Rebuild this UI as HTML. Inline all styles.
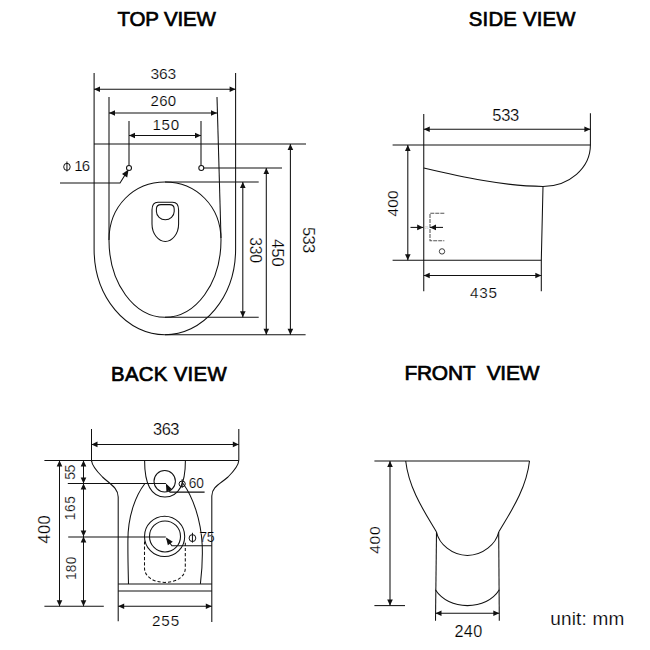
<!DOCTYPE html>
<html><head><meta charset="utf-8"><style>
html,body{margin:0;padding:0;background:#fff;width:650px;height:650px;overflow:hidden}
svg{display:block}
text{font-family:"Liberation Sans",sans-serif}
</style></head><body>
<svg width="650" height="650" viewBox="0 0 650 650" fill="none">
<rect width="650" height="650" fill="#fff"/>
<text x="117.46" y="26.16" font-size="20.48" font-weight="normal" letter-spacing="-0.13" fill="#000" stroke="#000" stroke-width="0.70">TOP VIEW</text>
<path d="M94.1,73 V249 A70.8,85.8 0 0 0 164.9,334.8 A70.8,85.8 0 0 0 235.6,249 V73" stroke="#111" stroke-width="1.05"/>
<path d="M109.00,97.00 L109.00,240.00" stroke="#111" stroke-width="1.05"/>
<path d="M217.00,97.00 L221.00,238.00" stroke="#111" stroke-width="1.05"/>
<path d="M165,182 C196,182 221,206 221,240 C221,283 196,317.3 165,317.3 C134,317.3 109,283 109,240 C109,206 134,182 165,182 Z" stroke="#111" stroke-width="1.05"/>
<path d="M158,202.2 H172.6 Q178.6,202.2 178.6,210 V224 C178.6,234 172,241.5 165.3,241.5 C158.6,241.5 152,234 152,224 V210 Q152,202.2 158,202.2 Z" stroke="#111" stroke-width="1.05"/>
<path d="M161,204.6 H169.6 Q174.2,204.6 174.2,209 V211.5 C174.2,216 170,219.7 165.3,219.7 C160.6,219.7 156.4,216 156.4,211.5 V209 Q156.4,204.6 161,204.6 Z" stroke="#111" stroke-width="1.05"/>
<path d="M94.00,89.30 L235.60,89.30" stroke="#111" stroke-width="1.05"/>
<path d="M94.00,89.30 L100.00,86.50 L100.00,92.10 Z" fill="#111" stroke="none"/>
<path d="M235.60,89.30 L229.60,92.10 L229.60,86.50 Z" fill="#111" stroke="none"/>
<path d="M109.00,113.00 L217.00,113.00" stroke="#111" stroke-width="1.05"/>
<path d="M109.00,113.00 L115.00,110.20 L115.00,115.80 Z" fill="#111" stroke="none"/>
<path d="M217.00,113.00 L211.00,115.80 L211.00,110.20 Z" fill="#111" stroke="none"/>
<path d="M129.00,121.00 L129.00,165.50" stroke="#111" stroke-width="1.05"/>
<path d="M201.00,121.00 L201.00,165.50" stroke="#111" stroke-width="1.05"/>
<path d="M129.00,135.50 L201.00,135.50" stroke="#111" stroke-width="1.05"/>
<path d="M129.00,135.50 L135.00,132.70 L135.00,138.30 Z" fill="#111" stroke="none"/>
<path d="M201.00,135.50 L195.00,138.30 L195.00,132.70 Z" fill="#111" stroke="none"/>
<circle cx="129.00" cy="168.00" r="2.50" stroke="#111" stroke-width="1.05"/>
<circle cx="201.30" cy="168.00" r="2.50" stroke="#111" stroke-width="1.05"/>
<text x="150.52" y="79.49" font-size="15.56" font-weight="normal" letter-spacing="-0.15" fill="#000" stroke="#fff" stroke-width="0.20">363</text>
<text x="150.52" y="106.35" font-size="15.00" font-weight="normal" letter-spacing="0.32" fill="#000" stroke="#fff" stroke-width="0.20">260</text>
<text x="152.40" y="130.01" font-size="15.14" font-weight="normal" letter-spacing="0.72" fill="#000" stroke="#fff" stroke-width="0.20">150</text>
<path d="M94.00,144.00 L306.00,144.00" stroke="#111" stroke-width="1.05"/>
<path d="M203.80,168.00 L282.00,168.00" stroke="#111" stroke-width="1.05"/>
<path d="M165.00,182.00 L258.70,182.00" stroke="#111" stroke-width="1.05"/>
<path d="M165.00,317.30 L258.70,317.30" stroke="#111" stroke-width="1.05"/>
<path d="M165.00,334.80 L305.60,334.80" stroke="#111" stroke-width="1.05"/>
<path d="M242.80,182.00 L242.80,317.30" stroke="#111" stroke-width="1.05"/>
<path d="M242.80,182.00 L245.60,188.00 L240.00,188.00 Z" fill="#111" stroke="none"/>
<path d="M242.80,317.30 L240.00,311.30 L245.60,311.30 Z" fill="#111" stroke="none"/>
<path d="M266.30,168.00 L266.30,334.80" stroke="#111" stroke-width="1.05"/>
<path d="M266.30,168.00 L269.10,174.00 L263.50,174.00 Z" fill="#111" stroke="none"/>
<path d="M266.30,334.80 L263.50,328.80 L269.10,328.80 Z" fill="#111" stroke="none"/>
<path d="M290.40,144.00 L290.40,334.80" stroke="#111" stroke-width="1.05"/>
<path d="M290.40,144.00 L293.20,150.00 L287.60,150.00 Z" fill="#111" stroke="none"/>
<path d="M290.40,334.80 L287.60,328.80 L293.20,328.80 Z" fill="#111" stroke="none"/>
<text x="250.14" y="237.38" font-size="15.71" font-weight="normal" letter-spacing="-0.33" fill="#000" stroke="#fff" stroke-width="0.20" transform="rotate(90 250.14 237.38)">330</text>
<text x="271.75" y="239.00" font-size="16.98" font-weight="normal" letter-spacing="-0.31" fill="#000" stroke="#fff" stroke-width="0.20" transform="rotate(90 271.75 239.00)">450</text>
<text x="302.56" y="227.12" font-size="16.55" font-weight="normal" letter-spacing="-0.71" fill="#000" stroke="#fff" stroke-width="0.20" transform="rotate(90 302.56 227.12)">533</text>
<path d="M60.00,183.00 L120.00,183.00 L125.00,175.00" stroke="#111" stroke-width="1.05"/>
<path d="M128.60,169.40 L127.21,177.40 L121.97,174.08 Z" fill="#111" stroke="none"/>
<ellipse cx="66.95" cy="166.85" rx="3.25" ry="3.55" stroke="#111" stroke-width="1.00"/>
<path d="M66.95,161.50 L66.95,171.40" stroke="#111" stroke-width="1.00"/>
<text x="74.30" y="171.35" font-size="15.00" font-weight="normal" letter-spacing="-0.98" fill="#000" stroke="#fff" stroke-width="0.20">16</text>
<text x="468.86" y="26.28" font-size="20.34" font-weight="normal" letter-spacing="0.19" fill="#000" stroke="#000" stroke-width="0.70">SIDE VIEW</text>
<path d="M392.60,145.00 L590.40,145.00" stroke="#111" stroke-width="1.05"/>
<path d="M423.75,114.00 L423.75,291.20" stroke="#111" stroke-width="1.05"/>
<path d="M590.40,113.30 L590.40,145.00" stroke="#111" stroke-width="1.05"/>
<path d="M590.4,145 A47.4,41.4 0 0 1 543,186.4" stroke="#111" stroke-width="1.05"/>
<path d="M423.75,168 C462,177 505,186.4 543,186.4" stroke="#111" stroke-width="1.05"/>
<path d="M543.00,186.40 L541.30,260.20 L541.30,291.20" stroke="#111" stroke-width="1.05"/>
<path d="M392.60,260.20 L541.30,260.20" stroke="#111" stroke-width="1.05"/>
<path d="M423.75,129.20 L590.40,129.20" stroke="#111" stroke-width="1.05"/>
<path d="M423.75,129.20 L429.75,126.40 L429.75,132.00 Z" fill="#111" stroke="none"/>
<path d="M590.40,129.20 L584.40,132.00 L584.40,126.40 Z" fill="#111" stroke="none"/>
<path d="M423.75,275.50 L541.30,275.50" stroke="#111" stroke-width="1.05"/>
<path d="M423.75,275.50 L429.75,272.70 L429.75,278.30 Z" fill="#111" stroke="none"/>
<path d="M541.30,275.50 L535.30,278.30 L535.30,272.70 Z" fill="#111" stroke="none"/>
<path d="M407.80,145.00 L407.80,260.20" stroke="#111" stroke-width="1.05"/>
<path d="M407.80,145.00 L410.60,151.00 L405.00,151.00 Z" fill="#111" stroke="none"/>
<path d="M407.80,260.20 L405.00,254.20 L410.60,254.20 Z" fill="#111" stroke="none"/>
<text x="492.36" y="120.94" font-size="16.55" font-weight="normal" letter-spacing="-0.37" fill="#000" stroke="#fff" stroke-width="0.20">533</text>
<text x="470.12" y="297.67" font-size="15.28" font-weight="normal" letter-spacing="0.72" fill="#000" stroke="#fff" stroke-width="0.20">435</text>
<text x="398.39" y="216.48" font-size="15.42" font-weight="normal" letter-spacing="0.22" fill="#000" stroke="#fff" stroke-width="0.20" transform="rotate(-90 398.39 216.48)">400</text>
<path d="M444.3,213.2 H430 V240.7 H444.3" stroke="#555" stroke-width="1.05" stroke-dasharray="4,1"/>
<path d="M410.50,227.40 L423.20,227.40" stroke="#111" stroke-width="1.05"/>
<path d="M423.20,227.40 L417.20,230.30 L417.20,224.50 Z" fill="#111" stroke="none"/>
<path d="M443.00,227.40 L430.00,227.40" stroke="#111" stroke-width="1.05"/>
<path d="M430.00,227.40 L436.00,224.50 L436.00,230.30 Z" fill="#111" stroke="none"/>
<circle cx="442.00" cy="251.40" r="2.70" stroke="#111" stroke-width="0.80"/>
<text x="424.6" y="228.6" font-size="3.6" fill="#aaa" font-family="Liberation Sans">25</text>
<text x="111.10" y="381.44" font-size="20.34" font-weight="normal" letter-spacing="0.32" fill="#000" stroke="#000" stroke-width="0.70">BACK VIEW</text>
<path d="M91.50,429.00 L91.50,461.50" stroke="#111" stroke-width="1.05"/>
<path d="M238.80,429.00 L238.80,460.50" stroke="#111" stroke-width="1.05"/>
<path d="M91.50,444.40 L238.80,444.40" stroke="#111" stroke-width="1.05"/>
<path d="M91.50,444.40 L97.50,441.60 L97.50,447.20 Z" fill="#111" stroke="none"/>
<path d="M238.80,444.40 L232.80,447.20 L232.80,441.60 Z" fill="#111" stroke="none"/>
<text x="153.04" y="434.66" font-size="16.41" font-weight="normal" letter-spacing="-0.53" fill="#000" stroke="#fff" stroke-width="0.20">363</text>
<path d="M44.40,460.50 L238.80,460.50" stroke="#111" stroke-width="1.05"/>
<path d="M91.5,460.5 C92,466 96.5,471 102.5,477 C110,484 118.2,488 118.2,497 V621.2" stroke="#111" stroke-width="1.05"/>
<path d="M238.8,460.5 C238.5,466 234,471 228,477 C220,484 211.8,487 211.8,496 V622" stroke="#111" stroke-width="1.05"/>
<path d="M118.20,583.90 L211.80,583.90" stroke="#111" stroke-width="1.05"/>
<path d="M118.20,590.90 L211.80,590.90" stroke="#111" stroke-width="1.05"/>
<path d="M118.20,606.30 L211.80,606.30" stroke="#111" stroke-width="1.05"/>
<path d="M118.20,606.30 L124.20,603.50 L124.20,609.10 Z" fill="#111" stroke="none"/>
<path d="M211.80,606.30 L205.80,609.10 L205.80,603.50 Z" fill="#111" stroke="none"/>
<text x="151.92" y="625.51" font-size="15.28" font-weight="normal" letter-spacing="0.91" fill="#000" stroke="#fff" stroke-width="0.20">255</text>
<path d="M44.40,606.20 L103.80,606.20" stroke="#111" stroke-width="1.05"/>
<path d="M59.50,460.50 L59.50,606.20" stroke="#111" stroke-width="1.05"/>
<path d="M59.50,460.50 L62.30,466.50 L56.70,466.50 Z" fill="#111" stroke="none"/>
<path d="M59.50,606.20 L56.70,600.20 L62.30,600.20 Z" fill="#111" stroke="none"/>
<path d="M83.50,460.50 L83.50,606.20" stroke="#111" stroke-width="1.05"/>
<path d="M83.50,460.50 L86.30,466.50 L80.70,466.50 Z" fill="#111" stroke="none"/>
<path d="M83.50,483.40 L80.70,477.40 L86.30,477.40 Z" fill="#111" stroke="none"/>
<path d="M83.50,483.40 L86.30,489.40 L80.70,489.40 Z" fill="#111" stroke="none"/>
<path d="M83.50,536.60 L80.70,530.60 L86.30,530.60 Z" fill="#111" stroke="none"/>
<path d="M83.50,536.60 L86.30,542.60 L80.70,542.60 Z" fill="#111" stroke="none"/>
<path d="M83.50,606.20 L80.70,600.20 L86.30,600.20 Z" fill="#111" stroke="none"/>
<path d="M67.80,483.40 L165.90,483.40" stroke="#111" stroke-width="1.05"/>
<path d="M68.20,536.90 L165.80,536.90" stroke="#111" stroke-width="1.05"/>
<text x="50.44" y="543.50" font-size="16.55" font-weight="normal" letter-spacing="0.29" fill="#000" stroke="#fff" stroke-width="0.20" transform="rotate(-90 50.44 543.50)">400</text>
<text x="74.68" y="479.80" font-size="14.07" font-weight="normal" letter-spacing="-0.54" fill="#000" stroke="#fff" stroke-width="0.20" transform="rotate(-90 74.68 479.80)">55</text>
<text x="75.46" y="520.26" font-size="13.73" font-weight="normal" letter-spacing="0.62" fill="#000" stroke="#fff" stroke-width="0.20" transform="rotate(-90 75.46 520.26)">165</text>
<text x="76.46" y="579.96" font-size="13.73" font-weight="normal" letter-spacing="0.21" fill="#000" stroke="#fff" stroke-width="0.20" transform="rotate(-90 76.46 579.96)">180</text>
<path d="M144.6,460.5 C144.6,485 152,497 165,497 C178,497 185.4,485 185.4,460.5" stroke="#111" stroke-width="1.05"/>
<circle cx="164.70" cy="481.20" r="10.70" stroke="#111" stroke-width="1.05"/>
<path d="M145.1,483.3 C136,495 128,515 127.9,540 C127.8,560 128.3,575 128.5,583.9" stroke="#111" stroke-width="1.05"/>
<path d="M182.9,483.3 C193,497 201,520 202.2,545 C202.8,560 201.5,575 200.4,583.9" stroke="#111" stroke-width="1.05"/>
<circle cx="164.60" cy="536.40" r="20.10" stroke="#111" stroke-width="1.05"/>
<circle cx="165.00" cy="536.40" r="15.50" stroke="#111" stroke-width="1.05"/>
<path d="M144.5,541.4 V568 C144.5,577 154,582.4 165,582.4 C176,582.4 185.3,577 185.3,568 V541.4" stroke="#111" stroke-width="1.05" stroke-dasharray="3.2,2"/>
<path d="M166.50,485.00 L170.00,492.10 L204.60,492.10" stroke="#111" stroke-width="1.05"/>
<path d="M165.90,483.60 L171.86,489.05 L166.46,491.66 Z" fill="#111" stroke="none"/>
<path d="M166.50,538.50 L171.90,545.80 L211.80,545.80" stroke="#111" stroke-width="1.05"/>
<path d="M166.00,537.40 L172.77,541.81 L167.86,545.26 Z" fill="#111" stroke="none"/>
<ellipse cx="182.15" cy="483.90" rx="3.15" ry="2.90" stroke="#111" stroke-width="1.00"/>
<path d="M182.15,479.20 L182.15,487.80" stroke="#111" stroke-width="1.00"/>
<text x="188.82" y="487.52" font-size="13.73" font-weight="normal" letter-spacing="-0.23" fill="#000" stroke="#fff" stroke-width="0.20">60</text>
<ellipse cx="192.45" cy="538.10" rx="3.35" ry="3.50" stroke="#111" stroke-width="1.00"/>
<path d="M192.45,532.80 L192.45,542.60" stroke="#111" stroke-width="1.00"/>
<text x="199.26" y="542.20" font-size="14.21" font-weight="normal" letter-spacing="-0.34" fill="#000" stroke="#fff" stroke-width="0.20">75</text>
<text x="404.42" y="379.75" font-size="20.90" font-weight="normal" letter-spacing="-0.19" fill="#000" stroke="#000" stroke-width="0.70">FRONT  VIEW</text>
<path d="M374.40,461.00 L529.50,461.00" stroke="#111" stroke-width="1.05"/>
<path d="M390.00,461.00 L390.00,605.60" stroke="#111" stroke-width="1.05"/>
<path d="M390.00,461.00 L392.80,467.00 L387.20,467.00 Z" fill="#111" stroke="none"/>
<path d="M390.00,605.60 L387.20,599.60 L392.80,599.60 Z" fill="#111" stroke="none"/>
<path d="M374.40,605.60 L405.00,605.60" stroke="#111" stroke-width="1.05"/>
<text x="380.39" y="553.68" font-size="15.56" font-weight="normal" letter-spacing="0.65" fill="#000" stroke="#fff" stroke-width="0.20" transform="rotate(-90 380.39 553.68)">400</text>
<path d="M405.7,461 C409,490 426,514 436.5,532" stroke="#111" stroke-width="1.05"/>
<path d="M529.5,461 C526.2,490 509.2,514 498.7,532" stroke="#111" stroke-width="1.05"/>
<path d="M436.5,532 C439,544 452,555.4 467.4,555.4 C483,555.4 496,544 498.7,532" stroke="#111" stroke-width="1.05"/>
<path d="M436.50,532.00 L435.50,620.80" stroke="#111" stroke-width="1.05"/>
<path d="M498.70,532.00 L499.30,620.80" stroke="#111" stroke-width="1.05"/>
<path d="M435.4,589.8 C442,600 454,605.6 467.4,605.6 C481,605.6 493,600 499.3,589.8" stroke="#111" stroke-width="1.05"/>
<path d="M435.50,613.20 L499.30,613.20" stroke="#111" stroke-width="1.05"/>
<path d="M435.50,613.20 L441.50,610.40 L441.50,616.00 Z" fill="#111" stroke="none"/>
<path d="M499.30,613.20 L493.30,616.00 L493.30,610.40 Z" fill="#111" stroke="none"/>
<text x="454.48" y="636.56" font-size="16.27" font-weight="normal" letter-spacing="0.34" fill="#000" stroke="#fff" stroke-width="0.20">240</text>
<text x="550.20" y="624.75" font-size="19.00" font-weight="normal" letter-spacing="0.18" fill="#000" stroke="#fff" stroke-width="0.20">unit: mm</text>
</svg></body></html>
